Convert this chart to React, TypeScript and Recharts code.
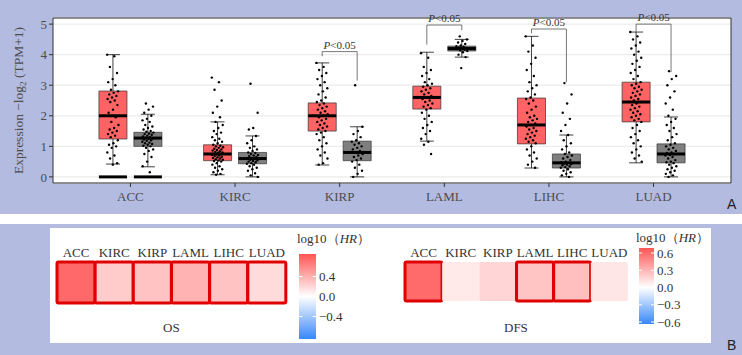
import React from "react";
import {
  ComposedChart,
  BarChart,
  Bar,
  Scatter,
  XAxis,
  YAxis,
  CartesianGrid,
  ReferenceArea,
  ReferenceLine,
} from "recharts";

const categories = ["ACC", "KIRC", "KIRP", "LAML", "LIHC", "LUAD"];
const yTicks = [0, 1, 2, 3, 4, 5];

// box statistics, tumour (red) and normal (grey)
const tumorQ1 = [1.24, 0.53, 1.5, 2.22, 1.08, 1.8];
const tumorMedian = [2.0, 0.75, 2.0, 2.6, 1.7, 2.45];
const tumorQ3 = [2.81, 1.05, 2.42, 2.97, 2.58, 3.1];
const tumorLow = [0.42, 0.07, 0.39, 1.17, 0.29, 0.46];
const tumorHigh = [4.0, 1.8, 3.73, 4.08, 4.6, 4.74];
const normalQ1 = [1.0, 0.43, 0.53, 4.12, 0.29, 0.46];
const normalMedian = [1.27, 0.6, 0.8, 4.2, 0.46, 0.75];
const normalQ3 = [1.46, 0.8, 1.17, 4.28, 0.75, 1.08];
const normalLow = [0.33, 0, 0, 3.92, 0, 0];
const normalHigh = [2.05, 1.34, 1.64, 4.5, 1.37, 1.96];

// samples stacked at zero
const zeroClusters = ["ACC"];

const tumorPoints: number[][] = [
  [4.0, 3.95, 3.6, 3.4, 3.2, 3.1, 3.0, 2.85, 2.8, 2.75, 2.7, 2.65, 2.6, 2.55, 2.5, 2.45, 2.35, 2.2, 2.1, 1.95, 1.8, 1.7, 1.6, 1.55, 1.5, 1.45, 1.4, 1.35, 1.3, 1.2, 1.1, 1.05, 1.0, 0.95, 0.8, 0.7, 0.6, 0.45, 0.4],
  [3.25, 3.1, 2.85, 2.5, 2.3, 2.1, 1.95, 1.8, 1.7, 1.6, 1.5, 1.45, 1.4, 1.3, 1.25, 1.2, 1.15, 1.1, 1.05, 1.02, 1.0, 0.97, 0.95, 0.92, 0.9, 0.88, 0.86, 0.84, 0.82, 0.8, 0.78, 0.76, 0.75, 0.74, 0.72, 0.7, 0.68, 0.66, 0.64, 0.62, 0.6, 0.58, 0.56, 0.54, 0.52, 0.5, 0.45, 0.4, 0.35, 0.3, 0.25, 0.2, 0.15, 0.1, 0.07],
  [3.73, 3.6, 3.5, 3.4, 3.3, 3.2, 3.1, 3.0, 2.9, 2.8, 2.7, 2.6, 2.5, 2.45, 2.4, 2.35, 2.3, 2.25, 2.2, 2.15, 2.1, 2.05, 2.0, 1.95, 1.9, 1.85, 1.8, 1.75, 1.7, 1.65, 1.6, 1.55, 1.5, 1.45, 1.4, 1.3, 1.2, 1.1, 1.0, 0.9, 0.8, 0.7, 0.6, 0.45, 0.4],
  [4.05, 3.9, 3.6, 3.5, 3.4, 3.3, 3.2, 3.1, 3.05, 3.0, 2.95, 2.9, 2.85, 2.8, 2.75, 2.7, 2.65, 2.6, 2.55, 2.5, 2.45, 2.4, 2.35, 2.3, 2.25, 2.2, 2.1, 2.0, 1.9, 1.8, 1.7, 1.6, 1.5, 1.4, 1.25, 1.15, 1.05, 0.75],
  [4.6, 4.3, 4.1, 3.9, 3.7, 3.5, 3.3, 3.1, 3.0, 2.9, 2.8, 2.7, 2.6, 2.55, 2.5, 2.4, 2.3, 2.2, 2.1, 2.0, 1.95, 1.9, 1.85, 1.8, 1.75, 1.7, 1.65, 1.6, 1.55, 1.5, 1.45, 1.4, 1.35, 1.3, 1.25, 1.2, 1.15, 1.1, 1.0, 0.9, 0.8, 0.7, 0.6, 0.5, 0.4, 0.3],
  [4.74, 4.6, 4.5, 4.4, 4.3, 4.2, 4.1, 4.0, 3.9, 3.8, 3.7, 3.6, 3.5, 3.4, 3.3, 3.2, 3.1, 3.05, 3.0, 2.95, 2.9, 2.85, 2.8, 2.75, 2.7, 2.65, 2.6, 2.55, 2.5, 2.45, 2.4, 2.35, 2.3, 2.25, 2.2, 2.15, 2.1, 2.05, 2.0, 1.95, 1.9, 1.85, 1.8, 1.7, 1.6, 1.5, 1.4, 1.3, 1.2, 1.1, 1.0, 0.9, 0.8, 0.7, 0.6, 0.5],
];
const normalPoints: number[][] = [
  [2.4, 2.3, 2.2, 2.1, 2.0, 1.9, 1.85, 1.8, 1.7, 1.65, 1.6, 1.55, 1.5, 1.48, 1.45, 1.42, 1.4, 1.38, 1.35, 1.32, 1.3, 1.28, 1.26, 1.24, 1.22, 1.2, 1.18, 1.15, 1.12, 1.1, 1.08, 1.05, 1.02, 1.0, 0.95, 0.9, 0.85, 0.75, 0.65, 0.5, 0.35, 0.15],
  [3.05, 2.1, 1.6, 1.55, 1.34, 1.2, 1.1, 1.0, 0.95, 0.9, 0.85, 0.8, 0.78, 0.75, 0.72, 0.7, 0.68, 0.65, 0.62, 0.6, 0.58, 0.56, 0.54, 0.52, 0.5, 0.48, 0.45, 0.43, 0.4, 0.35, 0.3, 0.25, 0.2, 0.12, 0.05, 0.0],
  [3.0, 1.64, 1.5, 1.4, 1.3, 1.2, 1.15, 1.1, 1.05, 1.0, 0.95, 0.9, 0.85, 0.8, 0.75, 0.7, 0.65, 0.6, 0.55, 0.5, 0.4, 0.3, 0.2, 0.1, 0.0],
  [4.6, 4.5, 4.45, 4.4, 4.35, 4.3, 4.28, 4.26, 4.24, 4.22, 4.2, 4.18, 4.16, 4.14, 4.12, 4.08, 4.0, 3.92, 3.56],
  [3.07, 2.7, 2.4, 2.1, 1.9, 1.7, 1.5, 1.37, 1.2, 1.1, 1.0, 0.9, 0.8, 0.75, 0.7, 0.65, 0.6, 0.55, 0.5, 0.48, 0.46, 0.44, 0.42, 0.4, 0.38, 0.35, 0.32, 0.3, 0.25, 0.2, 0.15, 0.1, 0.05, 0.0],
  [3.46, 3.3, 3.2, 3.0, 2.8, 2.6, 2.4, 2.2, 2.0, 1.9, 1.8, 1.7, 1.6, 1.5, 1.4, 1.3, 1.2, 1.1, 1.05, 1.0, 0.95, 0.9, 0.85, 0.8, 0.78, 0.75, 0.72, 0.7, 0.65, 0.6, 0.55, 0.5, 0.48, 0.45, 0.4, 0.35, 0.3, 0.25, 0.2, 0.15, 0.1, 0.05, 0.0],
];

// significance brackets
const sigCategories = ["KIRP", "LAML", "LIHC", "LUAD"];
const bracketTop = [4.1, 4.97, 4.84, 5.0];
const bracketLeft = [3.95, 4.33, 4.7, 4.74];
const bracketRight = [3.15, 4.8, 3.1, 3.43];

// heatmaps, log10(HR)
const osLog10HR = [0.75, 0.26, 0.3, 0.38, 0.3, 0.18];
const osSignificant = [true, true, true, true, true, true];
const dfsLog10HR = [0.6, 0.09, 0.17, 0.24, 0.26, 0.1];
const dfsSignificant = [true, false, false, true, true, false];
const osLegendTicks = [-0.4, 0, 0.4];
const dfsLegendTicks = [-0.6, -0.3, 0, 0.3, 0.6];
const osRange: [number, number] = [-0.85, 0.85];
const dfsRange: [number, number] = [-0.635, 0.687];

const SERIF = "'Liberation Serif', 'Times New Roman', serif";
const LAVENDER = "#B3BBE1";
const DODGE = 0.167;
const HALF = 0.134;
const CAP = 0.067;

const jitter = (k: number) => (((k * 0.6180339) % 1) - 0.5) * 0.11;

const pointData = categories.flatMap((_, i) => [
  ...tumorPoints[i].map((v, k) => ({ x: i - DODGE + jitter(k), y: v })),
  ...normalPoints[i].map((v, k) => ({ x: i + DODGE + jitter(k + 7), y: v })),
]);

const bracketData = sigCategories.map((c, j) => ({ x: categories.indexOf(c), y: bracketTop[j] }));

const fmt = (v: number) => (v < 0 ? "\u2212" + Math.abs(v).toFixed(1) : v.toFixed(1));

function heatColor(v: number, max: number) {
  const t = Math.max(0, Math.min(1, v / max));
  const g = Math.round(255 - 170 * t);
  return `rgb(255,${g},${g})`;
}

function YTitle(props: any) {
  const vb = props.viewBox || { x: 23, y: 18, width: 30, height: 165 };
  const cx = 23;
  const cy = vb.y + vb.height / 2;
  return (
    <text x={cx} y={cy} transform={`rotate(-90, ${cx}, ${cy})`} textAnchor="middle" fontFamily={SERIF} fontSize={13.5} fill="#4D4D4D">
      <tspan>Expression −log</tspan>
      <tspan dy={3} fontSize={9}>2</tspan>
      <tspan dy={-3}> (TPM+1)</tspan>
    </text>
  );
}

function BoxPlot() {
  return (
    <ComposedChart width={742} height={214} margin={{ top: 18, right: 11, left: 23, bottom: 6 }}>
      <CartesianGrid vertical={false} stroke="#EBEBEB" strokeWidth={1.3} fill="#FFFFFF" />
      <XAxis
        type="number"
        dataKey="x"
        domain={[-0.74, 5.74]}
        ticks={yTicks}
        tickFormatter={(i) => categories[i] ?? ""}
        tickSize={4}
        tickMargin={5}
        height={25}
        axisLine={false}
        tickLine={{ stroke: "#333" }}
        tick={{ fontFamily: SERIF, fontSize: 13, fill: "#4D4D4D" }}
      />
      <YAxis
        type="number"
        dataKey="y"
        domain={[-0.2, 5.2]}
        ticks={yTicks}
        width={30}
        tickSize={4}
        axisLine={false}
        tickLine={{ stroke: "#333" }}
        tick={{ fontFamily: SERIF, fontSize: 13, fill: "#4D4D4D" }}
        label={<YTitle />}
      />
      {categories.map((c, i) => {
        const groups = [
          { cx: i - DODGE, q1: tumorQ1[i], md: tumorMedian[i], q3: tumorQ3[i], lo: tumorLow[i], hi: tumorHigh[i], fill: "#FF6363" },
          { cx: i + DODGE, q1: normalQ1[i], md: normalMedian[i], q3: normalQ3[i], lo: normalLow[i], hi: normalHigh[i], fill: "#7F7F7F" },
        ];
        return groups.map((g, j) => (
          <React.Fragment key={`${c}-${j}`}>
            <ReferenceLine segment={[{ x: g.cx, y: g.q3 }, { x: g.cx, y: g.hi }]} stroke="#111" strokeWidth={0.8} ifOverflow="visible" />
            <ReferenceLine segment={[{ x: g.cx, y: g.lo }, { x: g.cx, y: g.q1 }]} stroke="#111" strokeWidth={0.8} ifOverflow="visible" />
            <ReferenceLine segment={[{ x: g.cx - CAP, y: g.hi }, { x: g.cx + CAP, y: g.hi }]} stroke="#111" strokeWidth={0.8} ifOverflow="visible" />
            <ReferenceLine segment={[{ x: g.cx - CAP, y: g.lo }, { x: g.cx + CAP, y: g.lo }]} stroke="#111" strokeWidth={0.8} ifOverflow="visible" />
            <ReferenceArea x1={g.cx - HALF} x2={g.cx + HALF} y1={g.q1} y2={g.q3} fill={g.fill} fillOpacity={1} stroke="#333" strokeWidth={0.7} ifOverflow="visible" />
            <ReferenceLine segment={[{ x: g.cx - HALF, y: g.md }, { x: g.cx + HALF, y: g.md }]} stroke="#000" strokeWidth={3} ifOverflow="visible" />
            {zeroClusters.includes(c) && (
              <ReferenceLine segment={[{ x: g.cx - HALF, y: 0 }, { x: g.cx + HALF, y: 0 }]} stroke="#000" strokeWidth={3} ifOverflow="visible" />
            )}
          </React.Fragment>
        ));
      })}
      <Scatter
        data={pointData}
        isAnimationActive={false}
        shape={(p: any) => <circle cx={p.cx} cy={p.cy} r={1.2} fill="#000" />}
      />
      {sigCategories.map((c, j) => {
        const i = categories.indexOf(c);
        const l = i - DODGE;
        const r = i + DODGE;
        return (
          <React.Fragment key={`br-${c}`}>
            <ReferenceLine segment={[{ x: l, y: bracketTop[j] }, { x: r, y: bracketTop[j] }]} stroke="#555" strokeWidth={0.8} ifOverflow="visible" />
            <ReferenceLine segment={[{ x: l, y: bracketTop[j] }, { x: l, y: bracketLeft[j] }]} stroke="#555" strokeWidth={0.8} ifOverflow="visible" />
            <ReferenceLine segment={[{ x: r, y: bracketTop[j] }, { x: r, y: bracketRight[j] }]} stroke="#555" strokeWidth={0.8} ifOverflow="visible" />
          </React.Fragment>
        );
      })}
      <Scatter
        data={bracketData}
        isAnimationActive={false}
        shape={(p: any) => (
          <text x={p.cx} y={p.cy - 3} textAnchor="middle" fontFamily={SERIF} fontSize={11} fill="#333">
            <tspan fontStyle="italic">P</tspan>&lt;0.05
          </text>
        )}
      />
      <ReferenceArea x1={-0.74} x2={5.74} y1={-0.2} y2={5.2} fill="none" stroke="#333" strokeWidth={1} ifOverflow="visible" />
    </ComposedChart>
  );
}

function HeatRow({ values, sig, max, width, height, margin }: any) {
  const data = categories.map((c, i) => ({ name: c, tile: 1, v: values[i], sig: sig[i] }));
  return (
    <BarChart width={width} height={height} data={data} margin={margin} barCategoryGap={0}>
      <XAxis
        dataKey="name"
        orientation="top"
        interval={0}
        height={20}
        tickSize={0}
        tickMargin={5}
        axisLine={false}
        tickLine={false}
        tick={{ fontFamily: SERIF, fontSize: 13, fill: "#333" }}
      />
      <YAxis hide domain={[0, 1]} />
      <Bar
        dataKey="tile"
        isAnimationActive={false}
        shape={(p: any) => (
          <rect
            x={p.x}
            y={p.y}
            width={p.width}
            height={p.height}
            fill={heatColor(p.payload.v, max)}
            stroke={p.payload.sig ? "#E00000" : "none"}
            strokeWidth={3}
            rx={1.5}
          />
        )}
      />
    </BarChart>
  );
}

function ColorBar({ id, range, ticks, width, height, margin }: any) {
  const zeroFrac = range[1] / (range[1] - range[0]);
  const gradientRect = (p: any) => (
    <g>
      <defs>
        <linearGradient id={id} x1="0" y1="0" x2="0" y2="1">
          <stop offset="0" stopColor="rgb(255,85,85)" />
          <stop offset={zeroFrac} stopColor="#FFFFFF" />
          <stop offset="1" stopColor="rgb(55,135,250)" />
        </linearGradient>
      </defs>
      <rect x={p.x} y={p.y} width={p.width} height={p.height} fill={`url(#${id})`} />
    </g>
  );
  return (
    <ComposedChart width={width} height={height} margin={margin} data={[{ x: 0.5, y: 0 }]}>
      <XAxis type="number" dataKey="x" domain={[0, 1]} hide />
      <YAxis
        type="number"
        dataKey="y"
        orientation="right"
        domain={range}
        ticks={ticks}
        interval={0}
        width={30}
        tickSize={0}
        tickMargin={3}
        axisLine={false}
        tickLine={false}
        tickFormatter={fmt}
        tick={{ fontFamily: SERIF, fontSize: 13, fill: "#333", textAnchor: "start" }}
      />
      <ReferenceArea x1={0} x2={1} y1={range[0]} y2={range[1]} shape={gradientRect} ifOverflow="visible" />
      {ticks.map((t: number) => (
        <React.Fragment key={t}>
          <ReferenceLine segment={[{ x: 0, y: t }, { x: 0.2, y: t }]} stroke="#fff" strokeWidth={1} />
          <ReferenceLine segment={[{ x: 0.8, y: t }, { x: 1, y: t }]} stroke="#fff" strokeWidth={1} />
        </React.Fragment>
      ))}
    </ComposedChart>
  );
}

const abs = (left: number, top: number, extra: any = {}) => ({ position: "absolute" as const, left, top, ...extra });

export default function App() {
  const legendTitle = (
    <span>
      log10（<i>HR</i>）
    </span>
  );
  return (
    <div style={{ position: "absolute", left: 0, top: 0, width: 742, height: 355, background: "#fff", fontFamily: SERIF, overflow: "hidden" }}>
      <div style={abs(0, 0, { width: 742, height: 214, background: LAVENDER })}>
        <BoxPlot />
        <div style={abs(727, 196, { fontFamily: "'Liberation Sans', Arial, sans-serif", fontSize: 14, color: "#222" })}>A</div>
      </div>
      <div style={abs(0, 224, { width: 742, height: 131, background: LAVENDER })}>
        <div style={abs(50, 4, { width: 661, height: 115, background: "#fff" })} />
        <div style={abs(727, 113, { fontFamily: "'Liberation Sans', Arial, sans-serif", fontSize: 14, color: "#222" })}>B</div>
      </div>
      <div style={abs(50, 228)}>
        <HeatRow values={osLog10HR} sig={osSignificant} max={osRange[1]} width={250} height={100} margin={{ top: 14, right: 14, left: 7, bottom: 25 }} />
      </div>
      <div style={abs(400, 228)}>
        <HeatRow values={dfsLog10HR} sig={dfsSignificant} max={dfsRange[1]} width={250} height={100} margin={{ top: 14, right: 22, left: 5, bottom: 27 }} />
      </div>
      <div style={abs(290, 240)}>
        <ColorBar id="gradOS" range={osRange} ticks={osLegendTicks} width={60} height={110} margin={{ top: 14, right: 4, left: 9, bottom: 11 }} />
      </div>
      <div style={abs(630, 236)}>
        <ColorBar id="gradDFS" range={dfsRange} ticks={dfsLegendTicks} width={70} height={100} margin={{ top: 12, right: 16, left: 9, bottom: 12 }} />
      </div>
      <div style={abs(297, 230, { fontSize: 13, color: "#333", whiteSpace: "nowrap" })}>{legendTitle}</div>
      <div style={abs(636, 229, { fontSize: 13, color: "#333", whiteSpace: "nowrap" })}>{legendTitle}</div>
      <div style={abs(163, 320, { fontSize: 13, color: "#333" })}>OS</div>
      <div style={abs(504, 320, { fontSize: 13, color: "#333" })}>DFS</div>
    </div>
  );
}
